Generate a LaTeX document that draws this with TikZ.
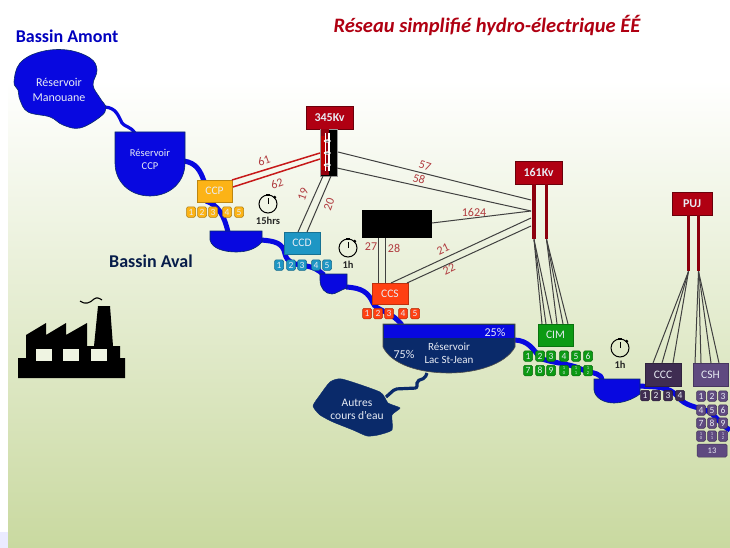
\documentclass[tikz,border=0pt]{standalone}
\usepackage{fontspec}
\setmainfont{Carlito}
\pgfdeclarelayer{backg}
\pgfdeclarelayer{rivers}
\pgfsetlayers{backg,rivers,main}
\definecolor{bgreen}{HTML}{C9D9A0}
\definecolor{wblue}{HTML}{0808E0}
\definecolor{navyw}{HTML}{0A2A6A}
\definecolor{hvred}{HTML}{B00012}
\definecolor{cpy}{HTML}{FCB316}
\definecolor{cdb}{HTML}{1E96C4}
\definecolor{csr}{HTML}{FF4012}
\definecolor{cmg}{HTML}{0C9A14}
\definecolor{ccg}{HTML}{3F2D52}
\definecolor{shg}{HTML}{5F4A80}
\definecolor{lblred}{HTML}{B03A3E}
\definecolor{wire}{HTML}{404040}
\definecolor{txtw}{HTML}{E8ECF4}
\tikzset{
  box/.style={draw=#1!75!black,fill=#1,line width=.6pt,inner sep=0pt,text=txtw,font=\fontsize{11.5}{13}\selectfont,align=center},
  hvbox/.style={draw=hvred!60!black,fill=hvred,line width=.7pt,inner sep=0pt,minimum height=23pt,text=txtw,font=\fontsize{12}{14}\bfseries\selectfont},
  sq/.style={fill=#1,draw=#1!70!black,line width=.5pt,rounded corners=1.5pt,minimum width=9pt,minimum height=10.5pt,inner sep=0pt,text=txtw,font=\fontsize{9.5}{11}\selectfont},
  res/.style={fill=wblue,draw=navyw,line width=.6pt},
  restxt/.style={text=txtw,font=\fontsize{12}{14.5}\selectfont,align=center,inner sep=0pt},
  river/.style={draw=wblue,line width=5pt},
  thinriver/.style={draw=wblue,line width=3.2pt},
  navyriver/.style={draw=navyw,line width=3.2pt,rounded corners=2pt},
  wl/.style={text=lblred,font=\fontsize{12}{14}\selectfont,inner sep=0pt},
  cable/.style={draw=wire,line width=1pt},
  redcable/.style={draw=red!75!black!90,line width=1.5pt},
  timer/.style={circle,draw=black,line width=1pt,minimum size=18pt,inner sep=0pt,fill=none},
  timetxt/.style={font=\fontsize{10.5}{12}\bfseries\selectfont,text=black!85,inner sep=0pt},
  barhv/.style={fill=hvred!80!black,draw=none}
}
\newcommand{\stopw}[4]{%
  \node[timer] (#1) at (#2,#3) {};
  \fill (#1.north) ++(-1.7,1.5) rectangle ++(3.4,-2.5);
  \fill (#1.45) circle (1.6pt);
  \draw[line width=.9pt] (#1.center) -- ++(0,-6);
  \node[timetxt] (#1txt) at (#2,#3+16.5) {#4};
}
\begin{document}
\begin{tikzpicture}[x=1pt,y=-1pt]
\useasboundingbox (0,0) rectangle (730,548);
\begin{pgfonlayer}{backg}
  \fill[white] (0,0) rectangle (730,548);
  \shade[top color=white,bottom color=bgreen] (8,80) rectangle (730,548);
  \fill[blue!8] (0,532) rectangle (8,548);
\end{pgfonlayer}

% headings
\node[font=\fontsize{18}{20}\bfseries\selectfont,text=blue!75!black,inner sep=0pt] (amont) at (67,36) {Bassin Amont};
\node[font=\fontsize{18}{20}\bfseries\selectfont,text=navyw!70!black,inner sep=0pt] (aval) at (151,261) {Bassin Aval};
\node[font=\fontsize{20.5}{24}\bfseries\itshape\selectfont,text=hvred,inner sep=0pt] (title) at (487,26) {Réseau simplifié hydro-électrique ÉÉ};

% reservoirs
\path[res] plot[smooth cycle,tension=.65] coordinates {(14,82) (20,63) (40,52) (67,50) (90,58) (97,70) (93,85) (100,98) (106,108) (100,117) (80,128) (63,125) (50,117) (28,112) (20,100) (18,90)};
\node[restxt] (manouane) at (59,90) {Réservoir\\Manouane};
\path[res] (115,132) -- (185,132) -- (185,163) .. controls (185,182) and (170,196) .. (150,196) .. controls (130,196) and (115,182) .. (115,163) -- cycle;
\node[restxt,font=\fontsize{10.5}{13}\selectfont] (rccp) at (150,159) {Réservoir\\CCP};
\path[res] (210,231) -- (262,231) -- (262,242) .. controls (255,250) and (245,252) .. (236,252) .. controls (225,252) and (212,249) .. (210,240) -- cycle;
\coordinate (rtwoin) at (228,232);
\coordinate (rtwoout) at (261,240);
\path[res] (320,274) -- (347,274) -- (347,288) .. controls (340,290) and (336,294) .. (332,294) .. controls (325,294) and (320,288) .. (320,280) -- cycle;
\coordinate (rthreein) at (324,275);
\coordinate (rthreeout) at (346,287);
\path[res] (594,379) -- (640,379) -- (640,394) .. controls (632,400) and (622,403) .. (614,403) .. controls (604,403) and (595,398) .. (594,390) -- cycle;
\coordinate (rfourin) at (602,380);
\coordinate (rfourout) at (639,386);
% Lac St-Jean
\path[fill=navyw,draw=black!70,line width=.6pt] (383,324) -- (515,324) -- (515,347) .. controls (505,365) and (475,373) .. (449,373) .. controls (420,373) and (392,365) .. (383,347) -- cycle;
\fill[wblue] (384,325) rectangle (514,338);
\node[restxt,font=\fontsize{11}{12.7}\selectfont] (lac) at (449,353) {Réservoir\\Lac St-Jean};
\node[restxt] (pa) at (495,332) {25\%};
\node[restxt] (pb) at (404,354) {75\%};
\coordinate (lacin) at (402,325);
\coordinate (lacout) at (514,340);
\coordinate (lacbot) at (427,373);
% Autres
\path[fill=navyw,draw=navyw] plot[smooth cycle,tension=.35] coordinates {(313,406) (320,395) (330,382) (342,379) (380,392) (388,403) (400,408) (392,415) (392,430) (378,435) (367,436) (353,430) (333,422) (320,415)};
\node[restxt,font=\fontsize{11.5}{13}\selectfont] (autres) at (357,409) {Autres\\cours d'eau};

% control stations
\node[box=cpy,minimum width=35pt,minimum height=22pt] (ccp) at (214.5,191) {CCP};
\node[box=cdb,minimum width=36pt,minimum height=22pt] (ccd) at (302,243) {CCD};
\node[box=csr,minimum width=36pt,minimum height=21pt] (ccs) at (390,293.5) {CCS};
\node[box=cmg,minimum width=35pt,minimum height=22pt] (cim) at (555.5,335) {CIM};
\node[box=ccg,minimum width=36pt,minimum height=23pt] (ccc) at (663,374.5) {CCC};
\node[box=shg,minimum width=35pt,minimum height=23pt] (csh) at (710.5,374.5) {CSH};

% unit squares
\foreach \n/\x in {1/191,2/202,3/213,4/227,5/239}
  \node[sq=cpy] (ccpu\n) at (\x,212) {\n};
\foreach \n/\x in {1/279,2/291,3/302,4/316,5/327}
  \node[sq=cdb] (ccdu\n) at (\x,265) {\n};
\foreach \n/\x in {1/367,2/378,3/389,4/403,5/415}
  \node[sq=csr] (ccsu\n) at (\x,313.5) {\n};
\foreach \n/\x in {1/528,2/540,3/551,4/564,5/576,6/588}
  \node[sq=cmg] (cimu\n) at (\x,356) {\n};
\foreach \n/\x in {7/528,8/540,9/551}
  \node[sq=cmg] (cimu\n) at (\x,370.5) {\n};
\foreach \n/\x/\t in {10/564/{1\\0},11/576/{1\\1},12/588/{1\\2}}
  \node[sq=cmg,align=center,font=\fontsize{4.5}{4.5}\selectfont] (cimu\n) at (\x,370.5) {\t};
\foreach \n/\x in {1/645,2/656,3/668,4/680}
  \node[sq=ccg] (cccu\n) at (\x,395.5) {\n};
\foreach \n/\x/\y in {1/701/396,2/712/396,3/723/396,4/701/410,5/712/410,6/723/410,7/701/423,8/712/423,9/723/423}
  \node[sq=shg] (cshu\n) at (\x,\y) {\n};
\foreach \n/\x/\t in {10/701/{1\\0},11/712/{1\\1},12/723/{1\\2}}
  \node[sq=shg,align=center,font=\fontsize{4.5}{4.5}\selectfont] (cshu\n) at (\x,436) {\t};
\node[sq=shg,minimum width=30pt,minimum height=13pt,font=\fontsize{8.5}{10}\selectfont] (cshu13) at (712,450.5) {13};

% rivers
\coordinate (mout) at (105,107);
\coordinate (rccpin) at (135,133);
\coordinate (rccpout) at (184,161);
\coordinate (edgeR) at (730,430);
\coordinate (autin) at (386,397);
\coordinate (ccpin) at (204,181);
\coordinate (ccpout) at (206,201);
\begin{pgfonlayer}{rivers}
  \draw[thinriver] (mout) .. controls (116,108) and (118,115) .. (122,123) .. controls (125,127) and (130,126) .. (rccpin);
  \draw[river] (rccpout) .. controls (196,163) and (200,170) .. (ccpin);
  \draw[river] (ccpout) .. controls (218,205) and (224,215) .. (rtwoin);
  \draw[river] (rtwoout) .. controls (275,241) and (283,243) .. (285,254) .. controls (287,262) and (293,264) .. (301,265) .. controls (315,267) and (318,270) .. (rthreein);
  \draw[river] (rthreeout) .. controls (362,288) and (368,292) .. (373,303) .. controls (376,311) and (390,310) .. (lacin);
  \draw[river] (lacout) .. controls (528,340) and (534,350) .. (540,358) .. controls (550,363) and (570,363) .. (583,370) .. controls (595,374) and (601,373) .. (rfourin);
  \draw[river] (rfourout) .. controls (655,387) and (670,386) .. (678,397) .. controls (685,406) and (697,407) .. (705,410) .. controls (715,413) and (720,425) .. (edgeR);
  \draw[navyriver] (lacbot) -- (425,378) -- (417,381) -- (417,388) -- (395,389) -- (autin);
\end{pgfonlayer}

% high-voltage posts
\node[hvbox,minimum width=47pt] (hvtop) at (329.5,117.5) {345Kv};
\node[draw=black!40,line width=.3pt,fill=black,minimum width=17pt,minimum height=47pt,inner sep=0pt,anchor=north] (hvbus) at (328.5,129) {};
\fill[hvred!85!black] (320.5,129.5) rectangle (328.5,175.5);
\fill[red!75!black] (321,136) rectangle (325.5,170);
\draw[white,line width=1.1pt] (325.5,133) -- (325.5,171);
\draw[white,line width=1.1pt] (329,133) -- (329,171);
\foreach \y in {141,153,165}{
  \fill[white] (327.2,\y) ellipse (3.6pt and 1.6pt);
  \fill[black!60] (327.2,\y+.3) ellipse (1.6pt and .8pt);
}
\node[hvbox,minimum width=47pt] (kvtop) at (538.5,172.5) {161Kv};
\node[barhv,minimum width=4pt,minimum height=55pt,inner sep=0pt,anchor=north] (kva) at (534,184) {};
\node[barhv,minimum width=3.6pt,minimum height=55pt,inner sep=0pt,anchor=north] (kvb) at (546.5,184) {};
\node[hvbox,minimum width=40pt] (puj) at (692,203.5) {PUJ};
\node[barhv,minimum width=3.6pt,minimum height=56pt,inner sep=0pt,anchor=north] (puja) at (688.5,215) {};
\node[barhv,minimum width=3.4pt,minimum height=56pt,inner sep=0pt,anchor=north] (pujb) at (698.5,215) {};
\node[fill=black,minimum width=70pt,minimum height=28pt,inner sep=0pt] (blk) at (397,224) {};

% cable ends
\coordinate (s61) at (232,180); \coordinate (e61) at (320,153);
\coordinate (s62) at (233,187); \coordinate (e62) at (320,159);
\coordinate (s19) at (298,232); \coordinate (e19) at (323,176);
\coordinate (s20) at (307,232); \coordinate (e20) at (331,176);
\coordinate (s57) at (338,152); \coordinate (e57) at (531,200);
\coordinate (s58) at (337,168); \coordinate (e58) at (531,211);
\coordinate (s1624) at (432,223); \coordinate (e1624) at (531,211);
\coordinate (s21) at (391,283); \coordinate (e21) at (531,218);
\coordinate (s22) at (407,283); \coordinate (e22) at (531,226);
\coordinate (s27) at (378,238); \coordinate (e27) at (378,283);
\coordinate (s28) at (385,238); \coordinate (e28) at (385,283);

\draw[redcable] (s61) -- (e61);
\draw[redcable] (s62) -- (e62);
\foreach \a in {19,20,57,58,1624,21,22,27,28}
  \draw[cable] (s\a) -- (e\a);
\foreach \x in {542,546,552}{ \coordinate (cima\x) at (\x,324); \draw[cable] (kva.south) -- (cima\x); }
\foreach \x in {557,563,568}{ \coordinate (cimb\x) at (\x,324); \draw[cable] (kvb.south) -- (cimb\x); }
\foreach \x in {653,662,673}{ \coordinate (ccct\x) at (\x,363); \draw[cable] (puja.south) -- (ccct\x); }
\foreach \x in {695,701,711,719}{ \coordinate (csht\x) at (\x,363); \draw[cable] (pujb.south) -- (csht\x); }

% cable labels
\node[wl,rotate=20] (l61) at (264,161) {61};
\node[wl,rotate=20] (l62) at (277,184) {62};
\node[wl,rotate=70] (l19) at (303,194) {19};
\node[wl,rotate=70] (l20) at (329,204) {20};
\node[wl,rotate=-17] (l57) at (425,166) {57};
\node[wl,rotate=-17] (l58) at (419,179) {58};
\node[wl] (l1624) at (474,212) {1624};
\node[wl,rotate=25] (l21) at (443,249) {21};
\node[wl,rotate=25] (l22) at (449,269) {22};
\node[wl] (l27) at (371,247) {27};
\node[wl] (l28) at (394,248) {28};

% timers
\stopw{ta}{268}{204}{15hrs}
\stopw{tb}{348}{248}{1h}
\stopw{tc}{620}{348}{1h}

% factory
\path[fill=black] (18,378) -- (18,358) -- (26,358) -- (26,335) -- (46,323) -- (46,335) -- (66,323) -- (66,335) -- (87,323) -- (87,346) -- (94,346) -- (98,306) -- (110,306) -- (113,346) -- (120,346) -- (120,358) -- (125,358) -- (125,378) -- cycle;
\foreach \x in {36,63,91}
  \fill[black!0!bgreen!30] (\x,349) rectangle (\x+16,361);
\draw[line width=1.1pt] (80,301) .. controls (85,305) and (90,303) .. (94,299) .. controls (97,297) and (99,298) .. (102,300);
\end{tikzpicture}
\end{document}
